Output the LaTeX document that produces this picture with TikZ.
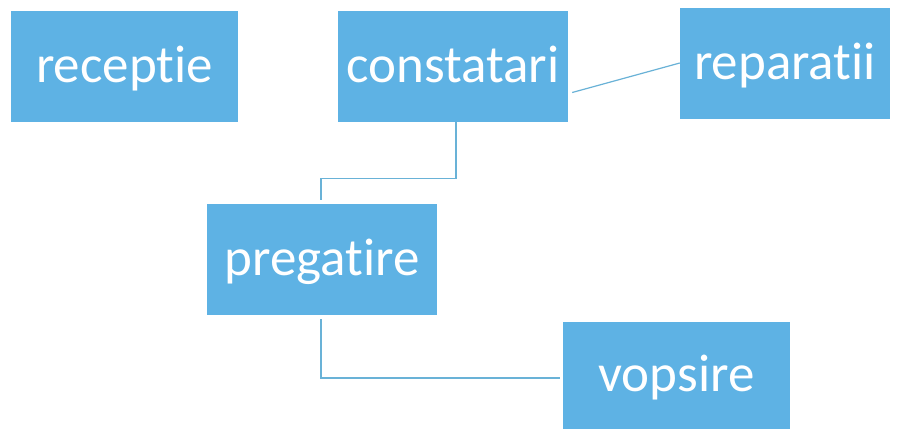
\documentclass[tikz,border=0pt]{standalone}
\usepackage{fontspec}
\setmainfont{Carlito}[Ligatures=NoCommon]
\definecolor{boxblue}{RGB}{94,178,228}
\definecolor{lineblue}{RGB}{105,178,215}
\tikzset{
  box/.style={fill=boxblue, draw=none, text=white, inner sep=0pt,
    font=\fontsize{53}{60}\selectfont, text height=41pt, text depth=9pt},
  conn/.style={draw=lineblue, line width=1.2pt}
}
\begin{document}
\begin{tikzpicture}[x=1pt,y=-1pt]
\useasboundingbox[fill=white] (0,0) rectangle (899,429);
\node[box, minimum width=227pt, minimum height=111pt] (rec) at (124.5,66.5) {receptie};
\node[box, minimum width=230pt, minimum height=111pt] (con) at (453,66.5) {constatari};
\node[box, minimum width=210pt, minimum height=111pt] (rep) at (785,63.5) {reparatii};
\node[box, minimum width=230pt, minimum height=111pt] (pre) at (322,259.5) {pregatire};
\node[box, minimum width=227pt, minimum height=107pt] (vop) at (676.5,375.5) {vopsire};
\draw[conn] ([xshift=4pt,yshift=-26pt]con.east) -- ([yshift=0.5pt]rep.west);
\draw[conn] ([xshift=3pt]con.south) -- ++(0,56) -| ([xshift=-1pt,yshift=4pt]pre.north);
\draw[conn] ([xshift=-1pt,yshift=-4pt]pre.south) |- ([xshift=-3pt,yshift=-2.5pt]vop.west);
\end{tikzpicture}
\end{document}
